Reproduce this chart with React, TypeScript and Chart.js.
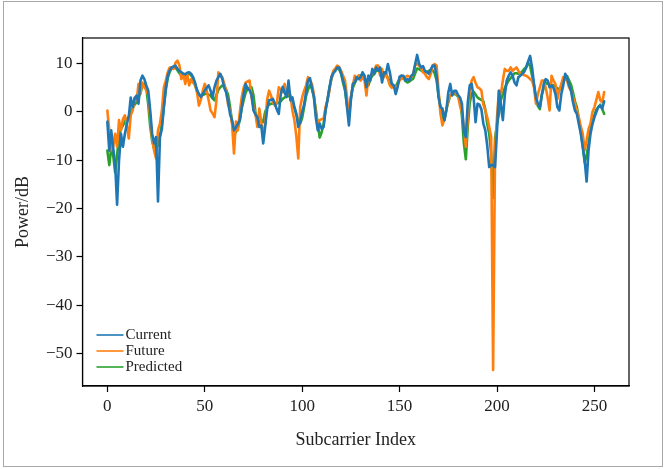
import React, { useEffect, useRef } from 'react';
import { Chart, registerables } from 'chart.js';

Chart.register(...registerables);

const seriesNames = ['Current', 'Future', 'Predicted'];
const seriesColors = ['#1f77b4', '#ff7f0e', '#2ca02c'];
const xTicks = [0, 50, 100, 150, 200, 250];
const yTicks = [-50, -40, -30, -20, -10, 0, 10];

const current = [
  -2, -8, -3.8, -7.5, -10.7, -19.2, -10, -4.5, -7.2, -4.5,
  -2.5, -1, 3, 1, 2.8, 3.4, 1.7, 6.5, 7.5, 6.8,
  5.5, 4.4, 0.3, -4.5, -6.5, -5.2, -18.5, -5.2, -3.5, 1,
  5, 7.5, 8.6, 9.2, 9.4, 9.6, 8.9, 8.5, 8.2, 7.9,
  7.8, 8.1, 8.2, 7.9, 7.2, 6.1, 4.6, 3.7, 3.1, 3.7,
  4.4, 5, 5.5, 4.4, 3, 5.1, 6.5, 7.2, 7.9, 6.8,
  5, 4, 2, -0.5, -1.7, -3.8, -3.2, -2.5, -1.7, 1,
  3.7, 5.8, 4.8, 4.5, 3.5, 0.3, -0.5, -1.1, -3.1, -2.8,
  -6.5, -3.1, 0.5, 2.4, 2.5, 2.7, 1.7, 0.5, -0.4, 3.7,
  5.2, 4, 3.1, 6.5, 2.4, 3, 1, -0.4, -3.1, -2,
  0, 1.5, 4.1, 6.5, 7, 5, 3.1, -1.1, -3.8, -2.4,
  -3.5, -3.1, 0.3, 2.5, 5, 7.2, 8, 8.5, 9.2, 9.2,
  8, 6.5, 5, 1, -2.8, 2.4, 5.8, 6.1, 7.2, 6.8,
  7.2, 8.2, 7.5, 5.1, 7.5, 6.5, 8.9, 8, 9.2, 8.5,
  9.2, 6.1, 8.2, 8, 9.9, 8.2, 5.8, 5.5, 3.7, 5.2,
  7.3, 7.5, 7.5, 6.5, 6.8, 6.5, 7.5, 7.8, 9.9, 11.8,
  10, 9.2, 9.5, 8.5, 8.2, 7.9, 8.8, 9.6, 9.6, 7.5,
  3, 1, 0.7, -1.7, 0.3, 4, 5.8, 3.4, 4.4, 4.4,
  3.5, 3, 1.7, -4, -5.2, 2, 5.5, 5.8, 3, -2.1,
  1.7, 1.5, 0.5, -2.4, -3.8, -7, -11.4, -11, -11, -11.4,
  -4, 4.4, 1.5, -1.7, 3.5, 6.5, 7.5, 8.2, 7.5, 6.1,
  5.5, 7.2, 7.5, 7.9, 8.3, 9.2, 10.5, 11.6, 9.2, 5.8,
  3, 1.7, 1, 3.5, 5.8, 6.8, 6.5, 5.1, 5.5, 5,
  3.7, 1, 0.3, 3.7, 5.5, 7.9, 7, 5.5, 4.4, 2,
  0.3, -0.4, -2.5, -4.5, -7.2, -10, -14.4, -7.9, -4.5, -2.5,
  -1.1, 0, 1, 1.3, 0.7, 2.2,
];

const future = [
  0.3, -3.8, -7.9, -7.2, -4.5, -7.2, -1.7, -3.8, -1.5, -0.7,
  -2.8, -5.5, -0.7, 0.3, 3, 2.4, 5.8, 3.7, 6.1, 5.1,
  4.5, 3.5, -1.1, -5.5, -8, -9.6, -3.8, -2.4, 0.3, 5.1,
  6.5, 8.2, 9.2, 9, 8.9, 10.2, 10.6, 9.6, 6.8, 7.9,
  5.8, 7.9, 5.5, 6.8, 6, 5.8, 4.1, 1.3, 2.5, 4.4,
  5.8, 4.5, 2.4, 0.3, -0.3, -1.1, 2.4, 8.2, 7.5, 7.2,
  5.8, 4.4, 1.5, 0.5, -2.4, -8.6, -2, -3.8, 0, 3.1,
  5.1, 6.1, 6.3, 6.5, 3.1, 1, -0.4, -3.1, 0.7, -2.1,
  -5.2, -2.4, 2.5, 4.4, 3.4, 2, 1.3, 1.8, 5.1, 4.6,
  4.1, 5.8, 3.1, 4.4, 3.4, 0.3, -1.7, -5, -9.6, 1,
  3, 4.4, 5.5, 7.2, 6.5, 5.8, 3.7, -0.4, -2.4, -1.7,
  -1.5, -1.4, 1, 2.5, 4.4, 7.2, 8.5, 9, 9.6, 9.3,
  8.5, 7.5, 6.5, 3.1, -1.1, 3, 5.5, 7.5, 6.8, 7.5,
  6.5, 7.2, 6.5, 3.4, 7.5, 7.5, 8, 8.6, 9.6, 9.6,
  7.5, 8.9, 7.2, 8.2, 6.8, 5.5, 5, 5.3, 5.1, 5.5,
  6.5, 7, 6.8, 7.2, 7.5, 7.3, 7.2, 8, 9.6, 10,
  9.6, 9.2, 8.2, 7.9, 7.2, 6.8, 7.9, 9.6, 9.9, 9.6,
  4.4, -0.4, -2.8, -1.5, 0.5, 2.4, 3.4, 3.8, 4.1, 3.7,
  3.4, 1.3, 0, -3.1, -7.2, -1.1, 4.5, 6.5, 7.2, 6,
  5.1, 4.9, 4.4, 1.5, 0.3, -1.1, -3.1, -5.2, -53.4, -8,
  -1.1, 4.4, 3.7, 6.5, 8.9, 8.5, 8.5, 9.2, 8.5, 8.9,
  9.2, 8.5, 7.9, 7.9, 7.6, 7.5, 7.2, 6.8, 6.5, 5.1,
  1.7, 3.7, 5.1, 6.5, 6.5, 5, 3, 0.3, 7.5, 6.5,
  5.8, 2.7, 4.5, 5.8, 7.2, 6.8, 6.5, 5.1, 4.4, 3,
  1.7, 0.3, -1.1, -3, -4.5, -7.9, -5.9, -3.5, -2.4, 0,
  1, 2.5, 4.1, 2.4, 2, 4.1,
];

const predicted = [
  -8, -11, -7.5, -9, -12.5, -9, -5, -3.5, -2.8, -2,
  -1.5, -1, 0, 0.8, 1.5, 2, 3, 4, 5.5, 5.8,
  5, 1.5, -3, -6, -7.6, -6, -7, -5, -2.5, 1,
  4.5, 7, 8.3, 9, 9.2, 9.2, 8.6, 8, 7.5, 7.4,
  7.6, 7.8, 7.9, 7.6, 7, 5.5, 4.4, 3.6, 3.4, 3.5,
  3.7, 3.8, 3.6, 3.4, 2.8, 2.4, 3.5, 4.6, 5.1, 5.5,
  5.2, 4.6, 3.5, 1, -2, -3.8, -4.2, -3.2, -1.7, 0.8,
  2.5, 4, 4.8, 5, 5.1, 3.5, 0, -2.1, -1.9, -1.7,
  -2.1, 0, 1, 1.5, 1.7, 1.7, 1.7, 1.8, 1.9, 2.2,
  2.7, 3, 3.3, 3.4, 2.9, 2, 1, -0.5, -1.8, -2.4,
  -1.2, 1, 3.3, 4.6, 5.6, 4.8, 3.2, 0.5, -2.5, -5.3,
  -4.2, -2.5, 0.5, 2.5, 5, 6.8, 8.2, 8.8, 9.1, 8.8,
  7.9, 6, 4.4, 1.5, -0.5, 3, 5, 6, 6.8, 7.5,
  7.6, 7.6, 7, 6.2, 5.5, 6.8, 7.5, 7.8, 8.6, 9.1,
  8.8, 8, 8.2, 7.8, 7, 6.4, 5.8, 5.3, 5.2, 6.1,
  6.8, 7.5, 7.2, 6.4, 6.1, 6.3, 6.6, 6.9, 8, 9,
  8.9, 8.6, 8.4, 8.2, 8.3, 8.5, 8.7, 8.6, 8, 6.5,
  3.5, 1, -1, -1.7, 0.5, 2, 3.4, 3.7, 3.7, 3.6,
  3.2, 2.4, -0.8, -6.5, -9.8, -3, 1.8, 3.8, 4.2, 3.6,
  3, 2.7, 2.5, 2.2, 0.5, -2.5, -4.5, -8.5, -17.8, -5.5,
  -2.5, -0.4, 2.5, 3.7, 5, 5.8, 6.5, 7, 7.5, 8,
  8, 7.9, 8, 8.4, 8.9, 9.3, 10.2, 9.5, 7.5, 5.5,
  2.5, 1.2, 0.6, 3.5, 5, 6, 5.9, 5.8, 5.6, 5.5,
  5.2, 4.9, 4.5, 5.3, 6.3, 7.2, 7.4, 6.5, 5.6, 4,
  2.2, 1, -1.5, -4, -7, -10.5, -9, -6.5, -3.5, -2,
  -0.6, 0.5, 1, 1.5, 0.6, -0.4,
];

const seriesValues = [current, future, predicted];

const FONT = "'Liberation Serif', 'Times New Roman', serif";

const fmt = (v: number) => (v < 0 ? '\u2212' + Math.abs(v) : String(v));

const framePlugin = {
  id: 'framePlugin',
  afterDraw(chart: any) {
    const { ctx, chartArea } = chart;
    const { left, top, right, bottom } = chartArea;
    ctx.save();
    ctx.strokeStyle = '#000';
    ctx.lineWidth = 1.2;
    ctx.strokeRect(left, top, right - left, bottom - top);
    ctx.strokeStyle = '#a8a8a8';
    ctx.lineWidth = 1;
    ctx.strokeRect(3.5, 1.5, chart.width - 7, chart.height - 4);
    ctx.font = `15px ${FONT}`;
    ctx.textBaseline = 'middle';
    ctx.textAlign = 'left';
    const lx = left + 14;
    const ly = bottom - 51;
    seriesNames.forEach((name, k) => {
      const y = ly + k * 16;
      ctx.strokeStyle = seriesColors[k];
      ctx.lineWidth = 1.6;
      ctx.beginPath();
      ctx.moveTo(lx, y);
      ctx.lineTo(lx + 27, y);
      ctx.stroke();
      ctx.fillStyle = '#222';
      ctx.fillText(name, lx + 29, y);
    });
    ctx.restore();
  },
};

export default function App() {
  const ref = useRef<HTMLCanvasElement | null>(null);
  useEffect(() => {
    if (!ref.current) return;
    const chart = new Chart(ref.current, {
      type: 'line',
      data: {
        datasets: seriesValues.map((vals, k) => ({
          label: seriesNames[k],
          data: vals.map((v, i) => ({ x: i, y: v })),
          borderColor: seriesColors[k],
          backgroundColor: seriesColors[k],
          borderWidth: 2.6,
          pointRadius: 0,
          tension: 0,
          fill: false,
          borderJoinStyle: 'round' as const,
          borderCapStyle: 'round' as const,
        })),
      },
      options: {
        responsive: false,
        animation: false,
        maintainAspectRatio: false,
        layout: { padding: { left: 0, top: 38, right: 37, bottom: 0 } },
        plugins: { legend: { display: false }, tooltip: { enabled: false } },
        scales: {
          x: {
            type: 'linear',
            min: -12.75,
            max: 267.75,
            afterFit: (s: any) => { s.height = 83; },
            afterBuildTicks: (s: any) => { s.ticks = xTicks.map((v) => ({ value: v })); },
            grid: { drawOnChartArea: false, tickLength: 6, tickColor: '#000', tickWidth: 1.2 },
            border: { display: true, color: '#000', width: 1.2 },
            ticks: {
              color: '#222',
              font: { family: FONT, size: 17 },
              padding: 4,
              maxRotation: 0,
              callback: (v: any) => fmt(Number(v)),
            },
            title: {
              display: true,
              text: 'Subcarrier Index',
              color: '#222',
              font: { family: FONT, size: 18 },
              padding: { top: 0, bottom: 18 },
            },
          },
          y: {
            type: 'linear',
            min: -56.7,
            max: 15.3,
            afterFit: (s: any) => { s.width = 82.5; },
            afterBuildTicks: (s: any) => { s.ticks = yTicks.map((v) => ({ value: v })); },
            grid: { drawOnChartArea: false, tickLength: 6, tickColor: '#000', tickWidth: 1.2 },
            border: { display: true, color: '#000', width: 1.2 },
            ticks: {
              color: '#222',
              font: { family: FONT, size: 17 },
              padding: 4,
              callback: (v: any) => fmt(Number(v)),
            },
            title: {
              display: true,
              text: 'Power/dB',
              color: '#222',
              font: { family: FONT, size: 18 },
              padding: { top: 12, bottom: 0 },
            },
          },
        },
      },
      plugins: [framePlugin],
    });
    return () => chart.destroy();
  }, []);
  return (
    <div style={{ position: 'fixed', left: 0, top: 0, width: 666, height: 469, background: '#fff' }}>
      <canvas ref={ref} width={666} height={469} style={{ display: 'block', width: 666, height: 469 }} />
    </div>
  );
}
